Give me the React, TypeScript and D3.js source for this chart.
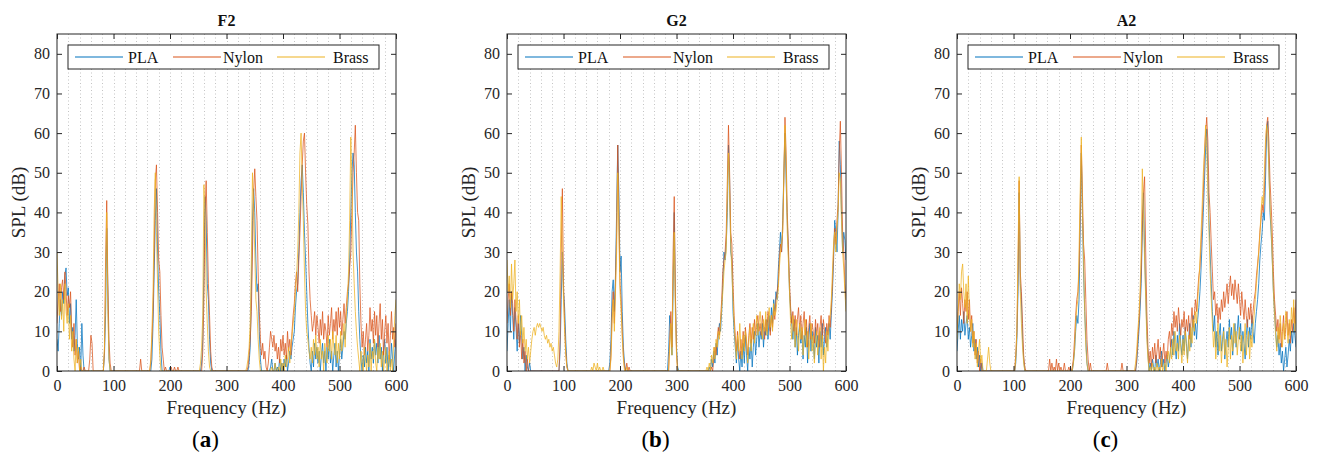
import React, { useEffect, useRef } from 'react';
import * as d3 from 'd3';

// spectra are sampled every 2 Hz, 0..600 Hz
const freqs = d3.range(0, 601, 2);

const materials = ['PLA', 'Nylon', 'Brass'];
const colors = ['#0072BD', '#D95319', '#EDB120'];
const xTicks = [0, 100, 200, 300, 400, 500, 600];
const yTicks = [0, 10, 20, 30, 40, 50, 60, 70, 80];

// ---- F2 ----
const f2Pla = [
  8,5,12,18,14,20,17,24,26,19,21,12,17,8,11,5,9,18,7,3,6,0,12,4,0,
  0,0,0,0,0,0,0,0,0,0,0,0,0,0,0,0,0,4,14,36,20,3,0,0,0,
  0,0,0,0,0,0,0,0,0,0,0,0,0,0,0,0,0,0,0,0,0,0,0,0,0,
  0,0,0,0,0,0,0,0,0,3,12,25,38,46,30,20,14,5,0,0,0,0,0,0,0,
  1,0,0,0,0,0,0,0,0,0,0,0,0,0,0,0,0,0,0,0,0,0,0,0,0,
  0,0,0,2,8,25,44,38,22,18,8,2,0,0,0,0,0,0,0,0,0,0,0,0,0,
  0,0,0,0,0,0,0,0,0,0,0,0,0,0,0,0,0,0,0,0,2,6,20,38,46,
  40,28,20,22,10,3,0,0,0,0,0,0,0,0,1,3,0,0,2,0,1,0,3,0,2,
  0,3,1,4,0,2,5,3,6,8,10,16,20,22,30,40,48,52,45,35,28,20,12,6,2,
  0,5,1,7,3,6,2,5,0,4,7,2,5,0,6,3,8,2,5,0,4,7,1,5,0,
  4,8,3,6,10,8,12,15,20,28,40,50,55,52,40,30,25,15,8,3,0,4,1,6,2,
  5,0,8,3,6,2,8,4,7,2,9,3,6,0,5,8,2,6,0,4,1,7,3,0,5,
  8,
];
const f2Nylon = [
  12,18,22,15,21,23,18,25,20,14,19,16,20,10,6,12,4,8,2,5,0,1,0,0,1,
  0,0,0,0,3,9,7,0,0,0,0,0,0,0,0,0,0,5,28,43,22,8,2,0,0,
  0,0,0,0,0,0,0,0,0,0,0,0,0,0,0,0,0,0,0,0,0,0,0,0,3,
  0,0,0,0,0,0,0,0,2,8,15,30,48,52,40,28,25,14,6,3,0,1,0,0,0,
  0,1,0,0,1,0,0,1,0,0,0,0,0,0,0,0,0,0,0,0,0,0,0,0,0,
  0,0,0,0,5,18,40,48,35,22,14,5,1,0,0,0,0,0,0,0,0,0,0,0,0,
  0,0,0,0,0,0,0,0,0,0,0,0,0,0,0,0,0,0,0,1,4,8,15,30,45,
  51,44,38,25,15,8,4,7,3,5,1,0,2,6,10,8,6,9,5,7,3,6,2,8,5,
  9,4,7,3,10,5,8,4,10,14,17,22,25,20,28,35,44,52,58,60,50,42,37,25,18,
  14,10,12,15,9,14,11,7,13,9,15,8,12,10,6,14,9,12,16,8,13,10,15,9,16,
  11,15,9,13,17,12,16,20,22,26,30,40,50,55,62,50,40,38,22,12,6,10,4,8,12,
  5,9,16,10,13,7,15,9,14,6,12,17,8,13,4,10,14,7,12,3,9,15,8,11,6,
  12,
];
const f2Brass = [
  30,20,14,22,13,18,10,22,15,12,17,8,14,5,10,3,0,8,2,6,0,3,0,0,0,
  0,0,0,0,0,0,0,0,0,0,0,0,0,0,0,0,0,6,20,40,15,3,0,0,0,
  0,0,0,0,0,0,0,0,0,0,0,0,0,0,0,0,0,0,0,0,0,0,0,0,0,
  0,0,0,0,0,0,0,0,3,10,20,40,50,35,22,10,4,0,0,0,0,0,0,0,0,
  0,0,0,0,0,0,0,0,0,0,0,0,0,0,0,0,0,0,0,0,0,0,0,0,0,
  0,0,2,6,14,47,40,20,12,5,1,0,0,0,0,0,0,0,0,0,0,0,0,0,0,
  0,0,0,0,0,0,0,0,0,0,0,0,0,0,0,0,0,0,1,3,6,12,28,50,42,
  30,18,15,8,3,0,0,0,0,0,0,0,0,0,0,1,0,0,2,0,0,1,0,3,0,
  2,0,4,1,3,6,2,7,9,12,15,20,24,30,40,55,60,48,38,25,15,10,8,5,3,
  6,2,8,4,9,3,6,1,8,3,5,0,7,4,2,9,5,8,3,10,6,4,9,2,7,
  3,10,5,8,12,6,14,18,25,38,59,48,30,22,15,10,6,3,0,5,2,0,6,3,0,
  4,1,7,0,5,3,8,2,0,6,3,7,1,5,0,3,6,0,2,5,0,3,0,8,14,
  18,
];

// ---- G2 ----
const g2Pla = [
  5,12,18,10,20,14,8,16,11,5,12,7,14,9,3,6,0,4,1,0,2,0,0,0,0,
  0,0,0,0,0,0,0,0,0,0,0,0,0,0,0,0,0,0,0,0,0,0,5,18,30,
  20,16,8,2,0,0,0,0,0,0,0,0,0,0,0,0,0,0,0,0,0,0,0,0,0,
  0,0,0,0,0,0,0,0,0,0,0,0,0,0,0,0,2,8,20,23,15,24,40,57,45,
  25,29,15,6,2,0,0,0,0,0,0,0,0,0,0,0,0,0,0,0,0,0,0,0,0,
  0,0,0,0,0,0,0,0,0,0,0,0,0,0,0,0,0,0,5,14,10,4,20,40,18,
  6,1,0,0,0,0,0,0,0,0,0,0,0,0,0,0,0,0,0,0,0,0,0,0,0,
  0,0,0,0,1,0,3,1,5,2,7,4,9,12,10,15,22,30,28,32,40,57,48,30,28,
  15,10,6,2,8,3,0,5,1,7,2,9,4,0,6,3,8,1,6,10,4,8,12,6,10,
  8,12,6,11,9,13,8,14,10,16,12,18,15,20,18,25,30,35,30,38,50,60,48,38,30,
  20,15,12,8,13,6,11,4,9,12,7,10,3,9,6,11,2,8,12,5,10,7,3,11,6,
  9,2,10,6,12,4,8,11,6,9,12,8,14,20,28,38,35,30,40,58,52,40,30,35,33,
  28,
];
const g2Nylon = [
  12,18,22,14,20,17,10,18,13,8,14,6,10,3,8,2,5,0,3,0,0,0,0,0,0,
  0,0,0,0,0,0,0,0,0,0,0,0,0,0,0,0,0,0,0,0,0,0,8,30,46,
  22,12,5,1,0,0,0,0,0,0,0,0,0,0,0,0,0,0,0,0,0,0,0,0,0,
  0,0,0,0,0,0,0,0,0,0,0,0,0,0,0,0,0,4,15,20,12,22,35,57,40,
  22,18,10,4,1,0,2,0,1,0,0,0,0,0,0,0,0,0,0,0,0,0,0,0,0,
  0,0,0,0,0,0,0,0,0,0,0,0,0,0,0,0,0,0,0,8,15,6,30,44,20,
  5,0,0,0,0,0,0,0,0,0,0,0,0,0,0,0,0,0,0,0,0,0,0,0,0,
  0,0,0,0,0,0,1,0,3,6,4,8,11,9,13,18,25,28,30,35,48,62,50,35,32,
  22,14,9,5,10,6,3,8,4,10,6,11,7,4,9,12,7,11,8,13,9,12,14,10,12,
  9,14,11,8,13,10,15,12,9,14,11,16,13,18,20,22,28,32,30,36,48,64,55,40,32,
  22,16,12,15,10,14,9,13,16,10,14,8,12,15,9,13,6,11,14,8,12,10,7,13,9,
  12,6,11,14,8,13,10,7,12,9,14,11,16,22,30,36,32,38,42,55,63,50,35,30,22,
  18,
];
const g2Brass = [
  28,20,24,16,27,18,22,28,15,20,12,18,9,14,7,11,5,8,3,6,2,5,8,10,11,
  9,11,12,11,12,11,10,11,9,8,9,7,8,6,7,5,6,4,2,1,3,10,25,44,30,
  18,10,4,1,0,0,0,0,0,0,0,0,0,0,0,0,0,0,0,0,0,0,0,0,0,
  1,0,2,1,0,2,0,1,0,0,1,0,0,0,0,0,0,3,12,18,10,20,30,50,35,
  20,15,8,3,0,0,1,0,0,0,0,0,0,0,0,0,0,0,0,0,0,0,0,0,0,
  0,0,0,0,0,0,0,0,0,0,0,0,0,0,0,0,0,0,0,6,12,4,25,35,15,
  4,0,0,0,0,0,0,0,0,0,0,0,0,0,0,0,0,0,0,0,0,0,0,0,0,
  0,0,1,0,2,0,4,2,6,3,8,6,10,8,12,16,20,25,28,30,45,55,45,32,25,
  18,12,7,3,9,5,12,6,3,9,5,10,8,2,7,11,5,9,12,7,10,14,9,12,15,
  11,8,13,10,15,9,12,16,11,14,10,17,14,15,18,20,26,30,32,35,50,62,52,35,28,
  20,12,8,14,11,6,13,9,5,12,8,11,4,9,13,6,10,3,8,12,5,9,2,7,10,
  4,8,11,3,9,0,6,2,10,5,12,14,18,25,32,35,30,36,40,50,48,38,30,26,20,
  15,
];

// ---- A2 ----
const a2Pla = [
  5,10,14,8,13,10,15,9,12,14,8,11,6,9,12,5,8,3,6,1,4,0,2,0,0,
  0,0,0,0,0,0,0,0,0,0,0,0,0,0,0,0,0,0,0,0,0,0,0,0,0,
  0,0,2,8,20,45,22,18,8,3,0,0,0,0,0,0,0,0,0,0,0,0,0,0,0,
  0,0,0,0,0,0,0,0,0,0,0,0,0,0,0,0,0,0,0,0,0,0,0,0,0,
  0,0,0,2,5,10,14,12,18,35,55,40,25,15,8,2,0,0,0,0,0,0,0,0,0,
  0,0,0,0,0,0,0,0,0,0,0,0,0,0,0,0,0,0,0,0,0,0,0,0,0,
  0,0,0,0,0,0,0,0,0,2,6,10,15,22,35,45,30,20,10,4,0,2,0,3,1,
  0,4,1,3,0,2,5,1,3,0,2,4,1,3,5,8,4,10,6,3,9,5,12,7,4,
  9,5,11,7,3,8,12,6,10,14,9,12,8,13,16,20,26,33,40,48,56,61,50,38,30,
  22,15,10,14,6,10,4,9,12,5,8,11,3,7,10,6,13,8,11,4,9,12,6,10,14,
  8,12,5,10,7,3,9,13,6,11,8,14,10,7,12,15,18,22,28,32,35,40,38,48,60,
  63,52,40,35,28,20,15,10,6,9,4,7,2,5,0,3,6,1,4,8,5,10,7,12,9,
  6,
];
const a2Nylon = [
  10,15,20,14,21,17,12,18,15,20,13,18,10,14,7,10,4,8,2,5,0,3,0,0,0,
  0,0,0,0,0,0,0,0,0,0,0,0,0,0,0,0,0,0,0,0,0,0,0,0,0,
  0,0,4,10,25,48,25,20,12,4,1,0,0,0,0,0,0,0,0,0,0,0,0,0,0,
  0,0,0,0,0,0,0,3,0,2,0,1,0,3,0,2,0,1,0,0,2,0,0,0,1,
  0,0,1,3,8,14,18,20,25,40,57,45,32,28,18,8,3,0,2,0,0,0,0,0,0,
  0,0,0,0,0,0,0,0,2,0,0,0,0,0,0,0,0,0,0,0,0,2,0,0,0,
  0,0,0,0,0,0,0,0,0,3,8,12,18,25,38,45,49,30,15,6,2,5,1,6,3,
  7,2,5,8,3,6,1,4,7,2,5,3,8,10,6,12,9,15,11,14,10,16,12,9,13,
  11,15,9,13,10,14,8,12,16,11,14,18,15,20,24,26,32,38,45,55,60,64,58,45,40,
  32,25,18,20,14,17,12,16,13,18,15,20,16,19,22,17,21,24,19,22,18,23,20,17,22,
  18,14,20,16,13,18,14,11,16,13,17,12,15,18,20,24,27,30,35,38,42,40,45,55,62,
  64,58,48,42,35,25,18,14,10,13,8,12,6,10,14,8,11,15,9,12,7,13,10,16,12,
  18,
];
const a2Brass = [
  8,15,22,18,25,27,20,16,22,12,24,15,10,13,6,10,3,7,1,5,8,2,4,0,0,
  0,0,3,6,2,0,0,0,0,0,0,0,0,0,0,0,0,0,0,0,0,0,0,0,0,
  0,0,3,10,30,49,20,12,6,2,0,0,0,0,0,0,0,0,0,0,0,0,0,0,0,
  0,0,0,0,0,0,0,0,0,0,0,0,0,0,0,0,0,0,0,0,0,0,0,0,0,
  0,0,0,2,5,12,16,18,30,45,59,40,28,15,6,2,0,0,0,0,0,0,0,0,0,
  0,0,0,0,0,0,0,0,0,0,0,0,0,0,0,0,0,0,0,0,0,0,0,0,0,
  0,0,0,0,0,0,0,0,2,5,10,14,20,30,51,40,28,18,8,3,0,1,0,2,0,
  1,0,2,0,1,0,3,0,1,2,0,3,5,2,6,3,8,4,10,5,7,3,9,6,2,
  8,4,10,6,2,9,5,11,7,13,10,15,12,18,22,28,35,42,50,55,62,56,45,35,25,
  18,12,6,10,3,8,12,5,9,2,7,10,4,8,1,6,11,3,9,5,12,7,10,4,8,
  11,5,9,2,7,12,4,8,10,3,9,6,11,14,18,22,26,30,34,40,44,42,50,58,62,
  60,50,42,36,28,20,14,9,5,11,7,14,10,6,12,8,15,11,7,13,9,16,12,18,10,
  14,
];

const panels = [
  { title: 'F2', tag: 'a', series: [f2Pla, f2Nylon, f2Brass] },
  { title: 'G2', tag: 'b', series: [g2Pla, g2Nylon, g2Brass] },
  { title: 'A2', tag: 'c', series: [a2Pla, a2Nylon, a2Brass] },
];

const App = () => {
  const svgRef = useRef(null);

  useEffect(() => {
    const W = 1320, H = 458;
    const left = 57, top = 34, gap = 450;
    const pw = 339, ph = 337;
    const font = "'Liberation Serif', 'Times New Roman', serif";
    const axisColor = '#262626';

    const svg = d3.select(svgRef.current);
    svg.selectAll('*').remove();
    svg.attr('width', W).attr('height', H).style('font-family', font);

    const x = d3.scaleLinear().domain([0, 600]).range([0, pw]);
    const y = d3.scaleLinear().domain([0, 85]).range([ph, 0]);

    panels.forEach((p, k) => {
      const g = svg.append('g')
        .attr('transform', `translate(${left + k * gap},${top})`);

      g.append('rect').attr('width', pw).attr('height', ph).attr('fill', '#fff');

      // minor x grid (every 20 Hz), dotted
      g.selectAll('.grid')
        .data(d3.range(20, 600, 20))
        .enter()
        .append('line')
        .attr('x1', d => Math.round(x(d)) + 0.5)
        .attr('x2', d => Math.round(x(d)) + 0.5)
        .attr('y1', 0)
        .attr('y2', ph)
        .attr('stroke', '#c4c4c4')
        .attr('stroke-width', 1)
        .attr('stroke-dasharray', '1,2.5');

      const clipId = `clip-${k}`;
      g.append('clipPath').attr('id', clipId)
        .append('rect').attr('width', pw).attr('height', ph);

      const line = d3.line()
        .x((d, i) => x(freqs[i]))
        .y(d => y(d));

      const lines = g.append('g').attr('clip-path', `url(#${clipId})`);
      p.series.forEach((s, j) => {
        lines.append('path')
          .datum(s)
          .attr('d', line)
          .attr('fill', 'none')
          .attr('stroke', colors[j])
          .attr('stroke-opacity', 0.75)
          .attr('stroke-width', 1)
          .attr('stroke-linejoin', 'round');
      });

      // axes: ticks point inward on all four sides
      const styleAxis = sel => {
        sel.attr('font-family', null);
        sel.select('.domain').remove();
        sel.selectAll('line').attr('stroke', axisColor);
        sel.selectAll('text')
          .attr('fill', axisColor)
          .style('font-family', font)
          .style('font-size', '16px');
      };
      g.append('g').attr('transform', `translate(0,${ph})`)
        .call(d3.axisBottom(x).tickValues(xTicks).tickSize(-5).tickPadding(9))
        .call(styleAxis);
      g.append('g')
        .call(d3.axisTop(x).tickValues(xTicks).tickSize(-5).tickFormat(() => ''))
        .call(styleAxis);
      g.append('g')
        .call(d3.axisLeft(y).tickValues(yTicks).tickSize(-5).tickPadding(7))
        .call(styleAxis);
      g.append('g').attr('transform', `translate(${pw},0)`)
        .call(d3.axisRight(y).tickValues(yTicks).tickSize(-5).tickFormat(() => ''))
        .call(styleAxis);

      g.append('rect')
        .attr('width', pw).attr('height', ph)
        .attr('fill', 'none').attr('stroke', axisColor).attr('stroke-width', 1);

      // legend
      const lg = g.append('g').attr('transform', 'translate(11,11)');
      lg.append('rect').attr('width', 311).attr('height', 24)
        .attr('fill', '#fff').attr('stroke', axisColor).attr('stroke-width', 1);
      const lineStarts = [7, 105, 209];
      const textStarts = [60, 155, 265];
      materials.forEach((m, j) => {
        lg.append('line')
          .attr('x1', lineStarts[j]).attr('x2', lineStarts[j] + 48)
          .attr('y1', 12).attr('y2', 12)
          .attr('stroke', colors[j]).attr('stroke-opacity', 0.5).attr('stroke-width', 2);
        lg.append('text')
          .attr('x', textStarts[j]).attr('y', 12).attr('dy', '0.35em')
          .attr('fill', '#111')
          .style('font-family', font).style('font-size', '16px')
          .text(m);
      });

      g.append('text')
        .attr('x', pw / 2).attr('y', -8)
        .attr('text-anchor', 'middle')
        .style('font-family', font)
        .style('font-size', '16px').style('font-weight', 'bold')
        .attr('fill', '#111')
        .text(p.title);

      g.append('text')
        .attr('x', pw / 2).attr('y', ph + 43)
        .attr('text-anchor', 'middle')
        .style('font-family', font)
        .style('font-size', '19px')
        .attr('fill', axisColor)
        .text('Frequency (Hz)');

      g.append('text')
        .attr('transform', 'rotate(-90)')
        .attr('x', -ph / 2).attr('y', -39).attr('dy', '0.35em')
        .attr('text-anchor', 'middle')
        .style('font-family', font)
        .style('font-size', '19px')
        .attr('fill', axisColor)
        .text('SPL (dB)');

      const tag = g.append('text')
        .attr('x', pw / 2 - 21).attr('y', ph + 76)
        .attr('text-anchor', 'middle')
        .style('font-family', font)
        .style('font-size', '23px')
        .attr('fill', '#000');
      tag.append('tspan').text('(');
      tag.append('tspan').style('font-weight', 'bold').text(p.tag);
      tag.append('tspan').text(')');
    });
  }, []);

  return <svg ref={svgRef} style={{ position: 'absolute', left: 0, top: 0 }}></svg>;
};

export default App;
